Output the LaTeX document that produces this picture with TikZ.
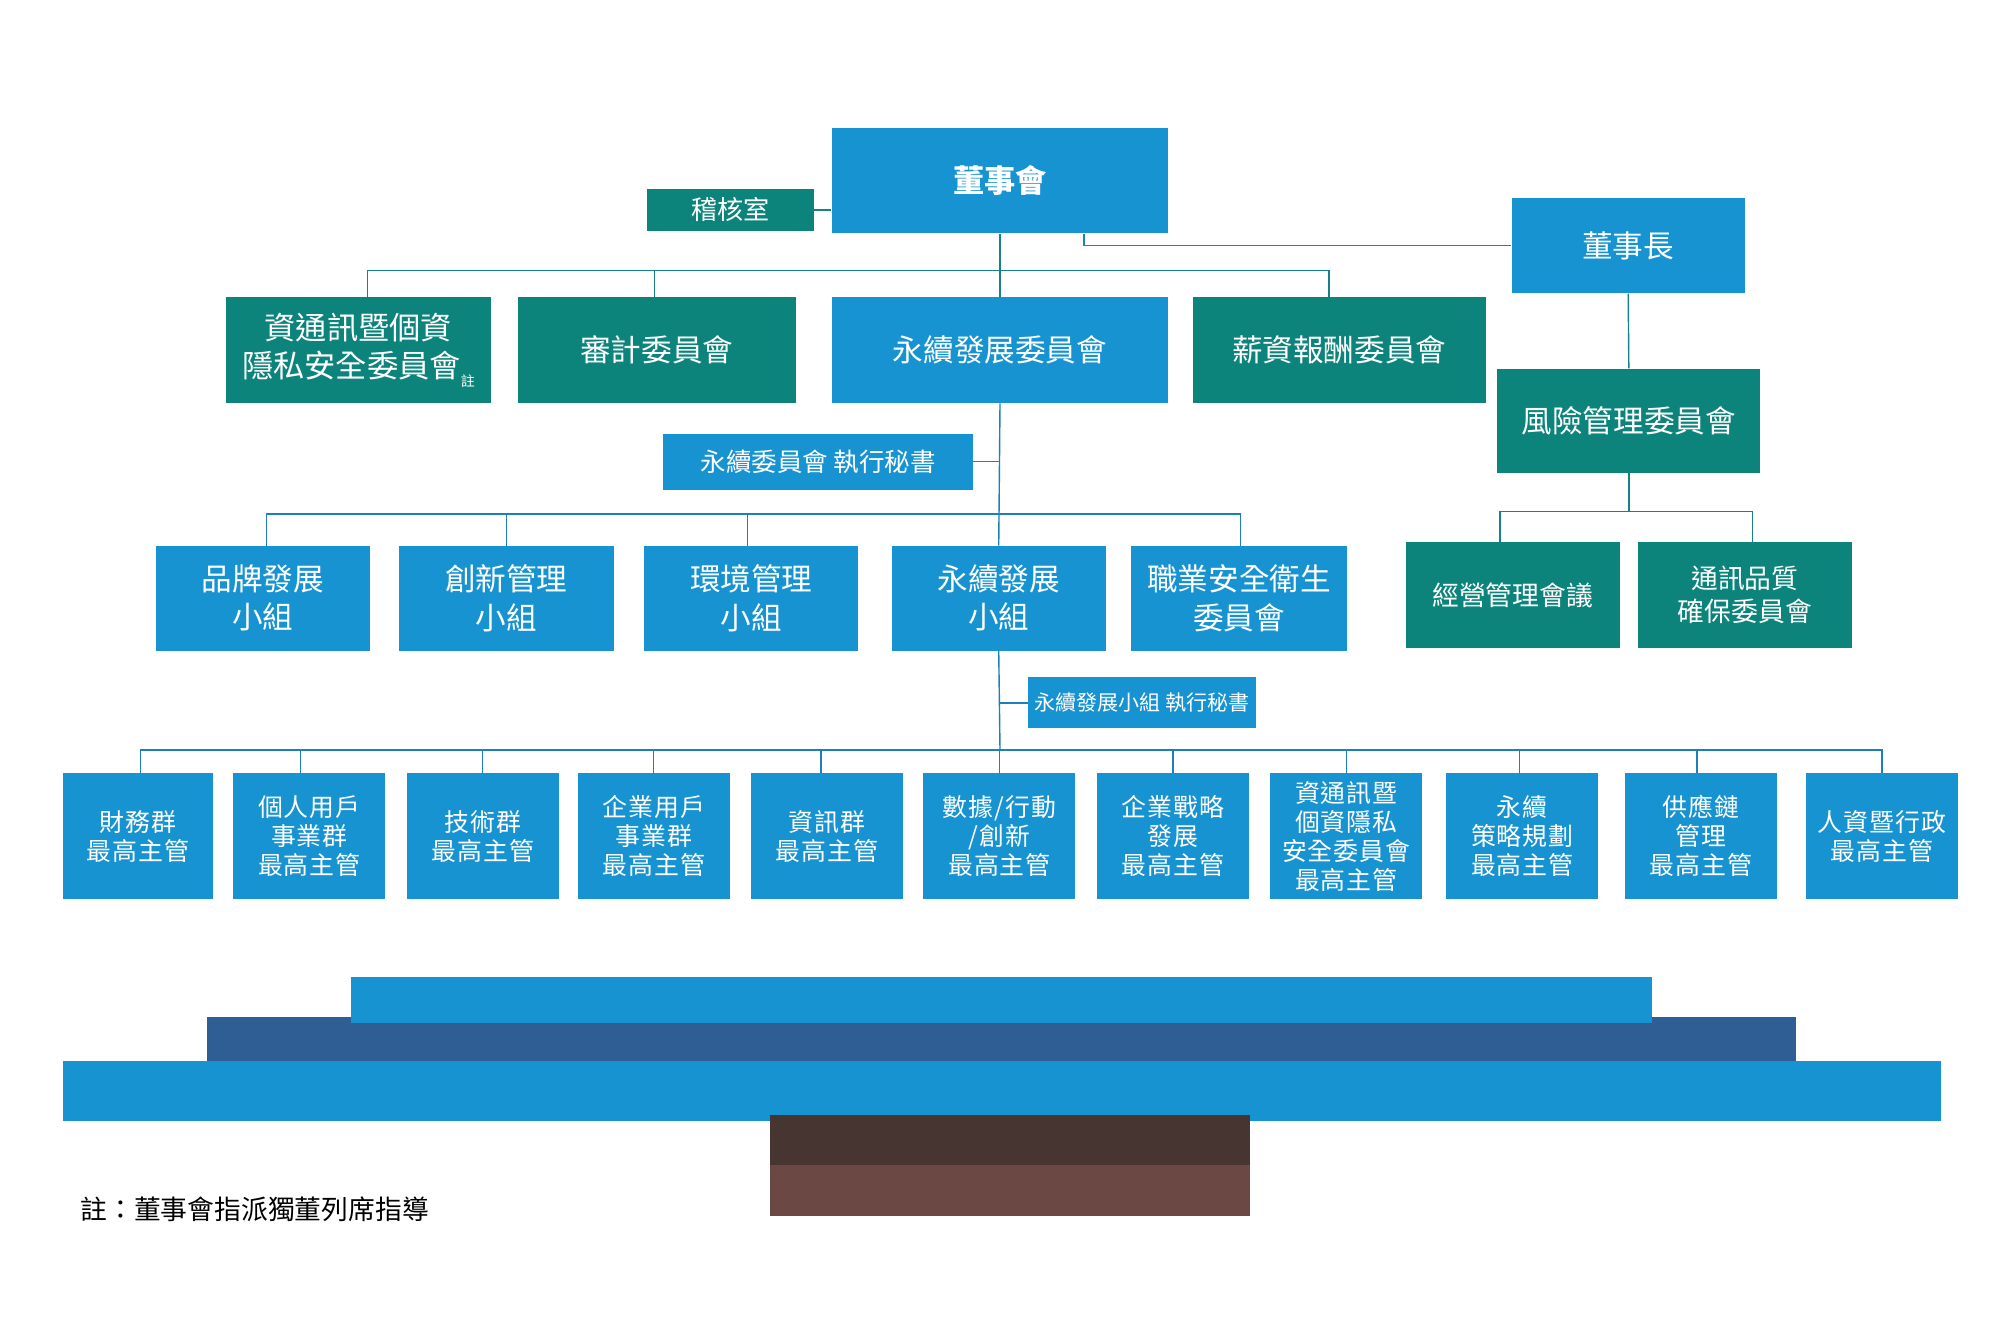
\documentclass[tikz,border=0pt]{standalone}
\usepackage{fontspec}
\setmainfont{Noto Sans CJK TC}
\definecolor{cblue}{HTML}{1893D1}
\definecolor{cteal}{HTML}{0C847B}
\definecolor{cdark}{HTML}{2E5E93}
\definecolor{cbrA}{HTML}{463530}
\definecolor{cbrB}{HTML}{6B4843}
\definecolor{lnteal}{HTML}{17808C}
\definecolor{lnblue}{HTML}{1C80BD}
\newcommand\obox[7]{\node[#6, minimum width={#4pt-#2pt}, minimum height={#5pt-#3pt}] (#1) at ({(#2+#4)/2},{-(#3+#5)/2}) {#7};}
\tikzset{
  bluebox/.style={fill=cblue, inner sep=0pt, align=center, text=white},
  tealbox/.style={fill=cteal, inner sep=0pt, align=center, text=white},
  fbig/.style={font=\fontsize{24}{30}\selectfont},
  fmid/.style={font=\fontsize{21}{26}\selectfont},
  fsec/.style={font=\fontsize{20}{24}\selectfont},
  fsmall/.style={font=\fontsize{16.5}{20}\selectfont},
  frow/.style={font=\fontsize{19.5}{22.7}\selectfont\addfontfeature{LetterSpace=4}},
  lt/.style={draw=lnteal, line width=1.1pt},
  lb/.style={draw=lnblue, line width=1.1pt}
}
\begin{document}
\begin{tikzpicture}[x=1pt,y=1pt]
\path[use as bounding box] (0,0) rectangle (1568,-1035.66);

% top level
\obox{dsh}{652}{100}{916}{183}{bluebox}{\fontsize{24.5}{30}\selectfont\bfseries 董事會}
\obox{audit}{507}{148}{638}{181}{tealbox,font=\fontsize{20.5}{24}\selectfont}{稽核室}
\obox{chair}{1185}{155}{1368}{230}{bluebox,fbig}{董事長}

% board committees
\obox{ict}{177}{233}{385}{316}{tealbox,font=\fontsize{24.5}{30}\selectfont}{資通訊暨個資\\隱私安全委員會\raisebox{-7pt}{\fontsize{11}{12}\selectfont 註}}
\obox{aud}{406}{233}{624}{316}{tealbox,fbig}{審計委員會}
\obox{ycw}{652}{233}{916}{316}{bluebox,fbig}{永續發展委員會}
\obox{pay}{935}{233}{1165}{316}{tealbox,fbig}{薪資報酬委員會}
\obox{risk}{1174}{289}{1380}{371}{tealbox,fbig}{風險管理委員會}

\obox{sec1}{520}{340}{763}{384}{bluebox,fsec}{永續委員會 執行秘書}

% groups
\obox{brand}{122}{428}{290}{510}{bluebox,fbig}{品牌發展\\小組}
\obox{innov}{313}{428}{481}{510}{bluebox,fbig}{創新管理\\小組}
\obox{env}{505}{428}{673}{510}{bluebox,fbig}{環境管理\\小組}
\obox{ycg}{699}{428}{867}{510}{bluebox,fbig}{永續發展\\小組}
\obox{osh}{887}{428}{1056}{510}{bluebox,fbig}{職業安全衛生\\委員會}
\obox{mgmt}{1102}{425}{1270}{508}{tealbox,fmid}{經營管理會議}
\obox{qual}{1284}{425}{1452}{508}{tealbox,fmid}{通訊品質\\確保委員會}

\obox{sec2}{806}{531}{985}{571}{bluebox,fsmall}{永續發展小組 執行秘書}

% heads
\obox{h1}{49}{606}{167}{705}{bluebox,frow}{財務群\\最高主管}
\obox{h2}{183}{606}{302}{705}{bluebox,frow}{個人用戶\\事業群\\最高主管}
\obox{h3}{319}{606}{438}{705}{bluebox,frow}{技術群\\最高主管}
\obox{h4}{453}{606}{572}{705}{bluebox,frow}{企業用戶\\事業群\\最高主管}
\obox{h5}{589}{606}{708}{705}{bluebox,frow}{資訊群\\最高主管}
\obox{h6}{724}{606}{843}{705}{bluebox,frow}{數據/行動\\/創新\\最高主管}
\obox{h7}{860}{606}{979}{705}{bluebox,frow}{企業戰略\\發展\\最高主管}
\obox{h8}{996}{606}{1115}{705}{bluebox,frow}{資通訊暨\\個資隱私\\安全委員會\\最高主管}
\obox{h9}{1134}{606}{1253}{705}{bluebox,frow}{永續\\策略規劃\\最高主管}
\obox{h10}{1274}{606}{1393}{705}{bluebox,frow}{供應鏈\\管理\\最高主管}
\obox{h11}{1416}{606}{1535}{705}{bluebox,frow}{人資暨行政\\最高主管}

% connectors
\coordinate (busA) at (784,-212);
\coordinate (cA) at (850,-192);
\coordinate (busB) at (784,-403);
\coordinate (busR) at (1277,-401);
\coordinate (dR1) at (1176,-401);
\coordinate (dR2) at (1374,-401);
\coordinate (busC) at (784,-588);

\draw[lt] (audit.east) -- (audit.east -| dsh.west);
\draw[lb] (dsh.south -| cA) |- (chair.west);
\draw[lt] (dsh.south) -- (ycw.north);
\draw[lt] ([xshift=7pt]ict.north) |- (busA) -| ([xshift=-8pt]pay.north);
\draw[lt] ([xshift=-2pt]aud.north) -- ([xshift=-2pt]aud.north |- busA);
\draw[lt] (chair.south) -- (risk.north);
\draw[lt] (risk.south) -- (busR);
\draw[lt] (dR1 |- mgmt.north) |- (busR) -| (dR2 |- qual.north);

\draw[lb] (ycw.south) -- (ycg.north);
\draw[lb] (sec1.east) -- (sec1.east -| ycw.south);
\draw[lb] ([xshift=3pt]brand.north) |- (busB) -| ([xshift=1pt]osh.north);
\draw[lb] (innov.north) -- (innov.north |- busB);
\draw[lb] ([xshift=-3pt]env.north) -- ([xshift=-3pt]env.north |- busB);

\draw[lb] (ycg.south) -- (busC);
\draw[lb] (sec2.west) -- (sec2.west -| ycg.south);
\draw[lb] ([xshift=2pt]h1.north) |- (busC) -| (h11.north);
\foreach \n/\dx in {h2/-7,h3/0,h4/0,h5/-5,h6/0,h7/0,h8/0,h9/-2,h10/-3}{
  \draw[lb] ([xshift=\dx pt]\n.north) -- ([xshift=\dx pt]\n.north |- busC);
}

% decorative bands
\fill[cdark] (162,-797) rectangle (1408,-832);
\fill[cblue] (275,-766) rectangle (1295,-802);
\fill[cblue] (49,-832) rectangle (1522,-879);
\fill[cbrA] (604,-874) rectangle (980,-913);
\fill[cbrB] (604,-913) rectangle (980,-953);

\node[anchor=west, inner sep=0pt, text=black, font=\fontsize{21}{24}\selectfont] (note) at (63,-948) {註：董事會指派獨董列席指導};
\end{tikzpicture}
\end{document}
